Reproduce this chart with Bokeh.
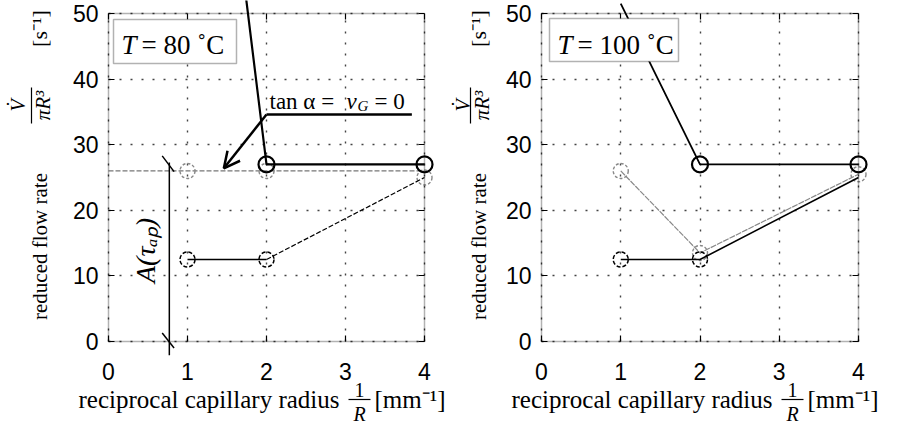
import math
from bokeh.plotting import figure
from bokeh.models import Range1d, Label, Arrow, OpenHead, BoxAnnotation, LinearAxis
from bokeh.layouts import row
from bokeh.embed import file_html
from bokeh.resources import INLINE

# ---------------- data ----------------
x_ticks = [0, 1, 2, 3, 4]
y_ticks = [0, 10, 20, 30, 40, 50]

temps = ["80", "100"]

# T = 80 C
l_up_x = [1, 2, 4]
l_up_y = [125, 27, 27]
l_lo_x = [1, 2, 4]
l_lo_y = [12.5, 12.5, 25]
l_gr_x = [1, 2, 4]
l_gr_y = [26, 26, 25]

# T = 100 C
r_up_x = [1, 2, 4]
r_up_y = [51.5, 27, 27]
r_lo_x = [1, 2, 4]
r_lo_y = [12.5, 12.5, 25]
r_gr_x = [1, 2, 4]
r_gr_y = [26, 13.5, 25.5]

# annotation values (left panel)
tau_line_x = 0.77        # x of the A(tau_ap) bracket
arrow_tip = (1.46, 26.4)
arrow_tail = (2.0, 34.6)
arrow_shelf_end = 3.84

SERIF = "Liberation Serif"
SANS = "Liberation Sans"

H = 426          # canvas height
FTOP, FBOT = 13, 341   # page y of y=50 and y=0
BL = 6           # baseline correction (px)


def style_axis(ax, labels=True):
    ax.axis_line_color = None
    ax.major_tick_in = 6
    ax.major_tick_out = 0
    ax.minor_tick_line_color = None
    ax.major_tick_line_color = "black"
    ax.major_tick_line_width = 1.2
    ax.major_label_text_font = SANS
    ax.major_label_text_font_size = "23px"
    ax.major_label_text_color = "black" if labels else None


def make_panel(page_x0, canvas_w, fx0, fx4, temp, box_px, yoff, num_dx):
    sx = (fx4 - fx0) / 4.0
    sy = (FBOT - FTOP) / 50.0

    def X(px):
        return (px - fx0) / sx

    def Y(py):
        return (FBOT - py) / sy

    p = figure(width=canvas_w, height=H, min_border=0,
               x_range=Range1d(X(page_x0), X(page_x0 + canvas_w)),
               y_range=Range1d(Y(H), Y(0)),
               output_backend="svg", toolbar_location=None,
               background_fill_color="white", border_fill_color="white")
    p.outline_line_color = None

    for ax, b in ((p.xaxis, (0, 4)), (p.yaxis, (0, 50))):
        ax.fixed_location = 0
        ax.bounds = b
        style_axis(ax)
    p.xaxis.ticker = x_ticks
    p.yaxis.ticker = y_ticks
    p.xaxis.major_label_standoff = 21
    p.yaxis.major_label_standoff = 10

    # mirrored ticks on top and right of the box
    top_ax = LinearAxis(fixed_location=50, bounds=(0, 4), ticker=x_ticks)
    style_axis(top_ax, labels=False)
    p.add_layout(top_ax, "above")
    right_ax = LinearAxis(fixed_location=4, bounds=(0, 50), ticker=y_ticks)
    style_axis(right_ax, labels=False)
    p.add_layout(right_ax, "right")

    p.xgrid.ticker = x_ticks
    p.ygrid.ticker = y_ticks
    p.xgrid.bounds = (0, 4)
    p.ygrid.bounds = (0, 50)
    p.xgrid.cross_bounds = (0, 50)
    p.ygrid.cross_bounds = (0, 4)
    for g in (p.xgrid, p.ygrid):
        g.grid_line_color = "#444444"
        g.grid_line_dash = "2 9"
        g.grid_line_width = 1.4

    # plot box
    p.add_layout(BoxAnnotation(left=0, right=4, bottom=0, top=50, fill_color=None,
                               line_color="black", line_width=1.5, level="annotation"))

    # label box with temperature
    l, r, t, b = box_px
    p.add_layout(BoxAnnotation(left=X(l), right=X(r), top=Y(t), bottom=Y(b),
                               fill_color="white", fill_alpha=1.0,
                               line_color="black", line_width=1.5, level="annotation"))
    p.add_layout(Label(x=X(l + 8), y=Y(50 - BL), text="T", text_font=SERIF, text_color="black",
                       text_font_style="italic", text_font_size="27px",
                       text_baseline="alphabetic", text_align="left"))
    p.add_layout(Label(x=X(l + 28), y=Y(50 - BL), text="= " + temp + " \u02daC", text_font=SERIF,
                       text_color="black", text_font_size="27px",
                       text_baseline="alphabetic", text_align="left"))

    # y axis label (rotated)
    yc = fx0 - yoff
    p.add_layout(Label(x=X(yc), y=Y(246), text="reduced flow rate", text_font=SERIF,
                       text_color="black", text_font_size="21px", angle=math.pi / 2,
                       text_align="center", text_baseline="middle"))
    p.add_layout(Label(x=X(yc + 3), y=Y(105), text="\u03c0R\u00b3", text_font=SERIF,
                       text_color="black", text_font_style="italic", text_font_size="21px",
                       angle=math.pi / 2, text_align="center", text_baseline="middle"))
    p.add_layout(Arrow(end=None, x_start=X(yc - 8), y_start=Y(87), x_end=X(yc - 8), y_end=Y(123),
                       line_width=1.2, line_color="black"))
    p.add_layout(Label(x=X(yc - num_dx), y=Y(105), text="V\u0307", text_font=SERIF,
                       text_color="black", text_font_style="italic", text_font_size="20px",
                       angle=math.pi / 2, text_align="center", text_baseline="middle"))
    p.add_layout(Label(x=X(yc), y=Y(28), text="[s\u207b\u00b9]", text_font=SERIF,
                       text_color="black", text_font_size="22px", angle=math.pi / 2,
                       text_align="center", text_baseline="middle"))

    # x axis label
    xl = fx0 - 30
    p.add_layout(Label(x=X(xl), y=Y(405 - BL), text="reciprocal capillary radius", text_font=SERIF,
                       text_color="black", text_font_size="25px", text_align="left",
                       text_baseline="alphabetic"))
    fc = xl + 281
    p.add_layout(Label(x=X(fc), y=Y(395 - BL), text="1", text_font=SERIF, text_color="black",
                       text_font_size="20px", text_align="center", text_baseline="alphabetic"))
    p.add_layout(Arrow(end=None, x_start=X(fc - 11), y_start=Y(399), x_end=X(fc + 11), y_end=Y(399),
                       line_width=1.2, line_color="black"))
    p.add_layout(Label(x=X(fc), y=Y(419 - BL), text="R", text_font=SERIF, text_font_style="italic",
                       text_color="black", text_font_size="20px", text_align="center",
                       text_baseline="alphabetic"))
    p.add_layout(Label(x=X(fc + 15), y=Y(405 - BL), text="[mm\u207b\u00b9]", text_font=SERIF,
                       text_color="black", text_font_size="25px", text_align="left",
                       text_baseline="alphabetic"))
    return p, X, Y


# ---------------- left panel ----------------
p1, X1, Y1 = make_panel(0, 449, 108, 424, temps[0], (113, 236, 19, 63), 69, 22)

p1.line([0, 4], [l_gr_y[0], l_gr_y[0]], line_color="#777777", line_dash="5 2", line_width=1.3)
p1.scatter(l_gr_x, l_gr_y, marker="circle", size=15, fill_color=None,
           line_color="#888888", line_dash="3 2", line_width=1.4)

p1.line(l_up_x, l_up_y, line_color="black", line_width=2.2)
p1.scatter(l_up_x[1:], l_up_y[1:], marker="circle", size=16, fill_color=None,
           line_color="black", line_width=2.2)

p1.line(l_lo_x[:2], l_lo_y[:2], line_color="black", line_width=1.5)
p1.line(l_lo_x[1:], l_lo_y[1:], line_color="black", line_width=1.2, line_dash="5 2")
p1.scatter(l_lo_x[:2], l_lo_y[:2], marker="circle", size=15, fill_color=None,
           line_color="black", line_dash="4 2", line_width=1.5)

# A(tau_ap) bracket
p1.add_layout(Arrow(end=None, x_start=tau_line_x, y_start=-2.1, x_end=tau_line_x, y_end=27.3,
                    line_color="black", line_width=1.5))
p1.add_layout(Arrow(end=None, x_start=tau_line_x - 0.09, y_start=28.3, x_end=tau_line_x + 0.06,
                    y_end=25.9, line_color="black", line_width=1.5))
p1.add_layout(Arrow(end=None, x_start=tau_line_x - 0.09, y_start=1.3, x_end=tau_line_x + 0.06,
                    y_end=-1.0, line_color="black", line_width=1.5))
p1.add_layout(Label(x=X1(145), y=Y1(250), text="A(\u03c4\u2090\u209a)", text_font=SERIF,
                    text_color="black", text_font_style="italic", text_font_size="28px",
                    angle=math.pi / 2, text_align="center", text_baseline="middle"))

# tan alpha annotation
p1.add_layout(Arrow(end=OpenHead(size=16, line_width=2.5, line_color="black"),
                    x_start=arrow_tail[0], y_start=arrow_tail[1],
                    x_end=arrow_tip[0], y_end=arrow_tip[1],
                    line_color="black", line_width=2.5))
p1.add_layout(Arrow(end=None, x_start=arrow_tail[0], y_start=arrow_tail[1],
                    x_end=arrow_shelf_end, y_end=arrow_tail[1],
                    line_color="black", line_width=2.5))
p1.add_layout(Label(x=X1(269), y=Y1(107 - BL), text="tan \u03b1 =", text_font=SERIF,
                    text_color="black", text_font_size="23px", text_align="left",
                    text_baseline="alphabetic"))
p1.add_layout(Label(x=X1(346), y=Y1(107 - BL), text="v", text_font=SERIF, text_font_style="italic",
                    text_color="black", text_font_size="23px", text_align="left",
                    text_baseline="alphabetic"))
p1.add_layout(Label(x=X1(357), y=Y1(111 - BL), text="G", text_font=SERIF, text_font_style="italic",
                    text_color="black", text_font_size="15px", text_align="left",
                    text_baseline="alphabetic"))
p1.add_layout(Label(x=X1(374), y=Y1(107 - BL), text="= 0", text_font=SERIF,
                    text_color="black", text_font_size="23px", text_align="left",
                    text_baseline="alphabetic"))

# ---------------- right panel ----------------
p2, X2, Y2 = make_panel(449, 449, 541, 858, temps[1], (549, 678, 18, 61), 63, 16)

p2.line(r_gr_x, r_gr_y, line_color="#888888", line_width=1.2, line_dash="6 1")
p2.scatter(r_gr_x, r_gr_y, marker="circle", size=15, fill_color=None,
           line_color="#888888", line_dash="3 2", line_width=1.4)

p2.line(r_up_x, r_up_y, line_color="black", line_width=1.8)
p2.scatter(r_up_x[1:], r_up_y[1:], marker="circle", size=16, fill_color=None,
           line_color="black", line_width=2.2)

p2.line(r_lo_x, r_lo_y, line_color="black", line_width=1.6)
p2.scatter(r_lo_x[:2], r_lo_y[:2], marker="circle", size=15, fill_color=None,
           line_color="black", line_dash="4 2", line_width=1.5)

layout = row(p1, p2)
open("out.html", "w").write(file_html(layout, INLINE))
